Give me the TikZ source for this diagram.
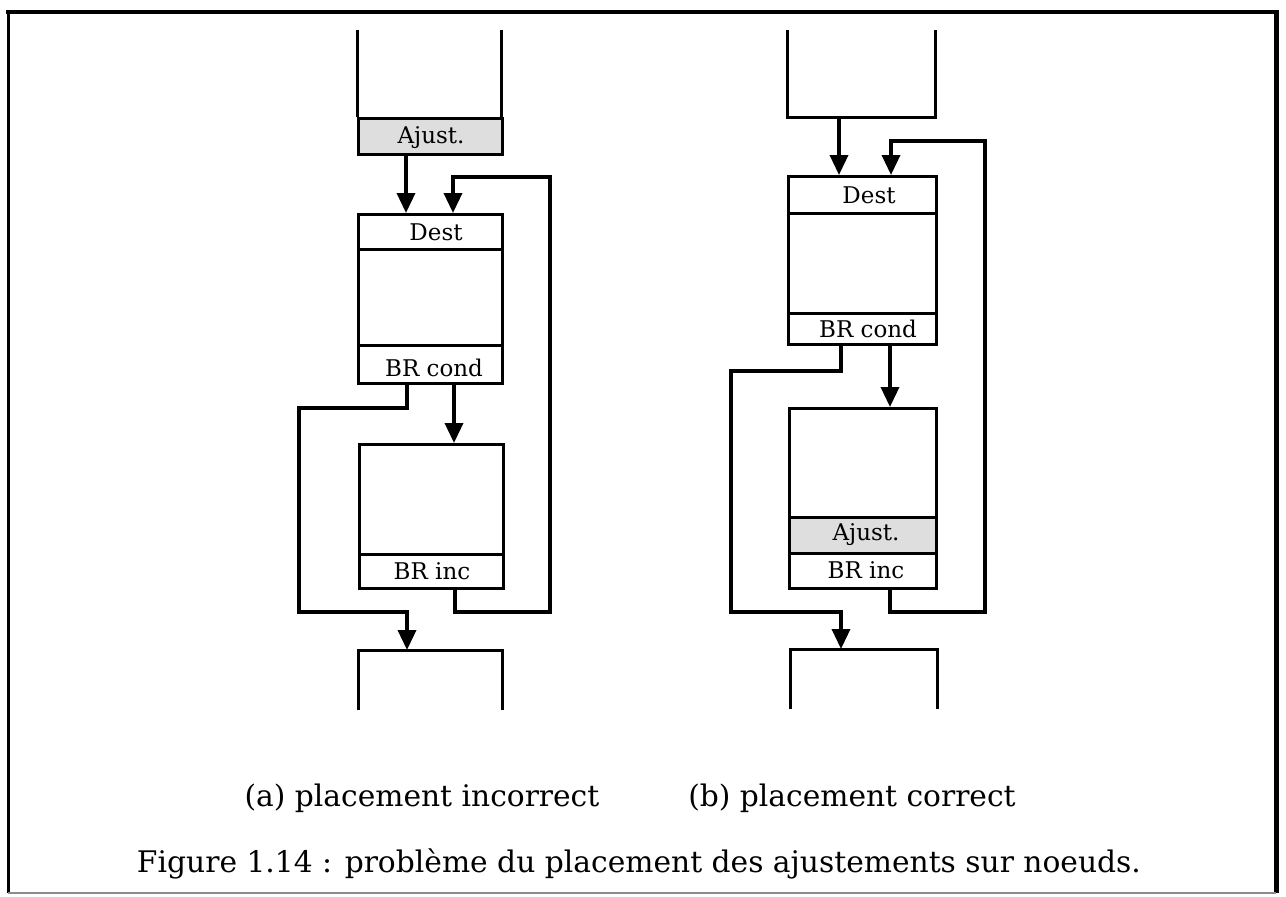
\documentclass[tikz,border=0pt]{standalone}
\usepackage{fontspec}
\setmainfont{DejaVu Serif}
\usetikzlibrary{arrows.meta}
\begin{document}
\begin{tikzpicture}[x=1pt,y=-1pt,
  ln/.style={line width=3pt, line join=miter},
  arr/.style={line width=3.5pt, line join=miter, -{Triangle[length=20pt,width=18pt]}},
  cell/.style={draw, line width=3pt, rectangle, inner sep=0pt, anchor=north west},
  ghost/.style={rectangle, inner sep=0pt, anchor=north west},
  shade/.style={fill=black!13},
  lbl/.style={inner sep=0pt, anchor=base, font=\fontsize{23}{27}\selectfont},
  captxt/.style={inner sep=0pt, anchor=base, font=\fontsize{29.7}{34}\selectfont}]
\useasboundingbox (0,0) rectangle (1286,897);
% frame
\draw[line width=4pt] (6,12) -- (1278,12);
\draw[line width=3pt] (8,10) -- (8,893);
\draw[line width=5pt] (1276,10) -- (1276,893);
\draw[line width=2pt, black!45] (8,893) -- (1276,893);

% ---------- (a) ----------
\node[ghost, minimum width=144pt, minimum height=87pt] (topA) at (357,30) {};
\draw[ln] (topA.north west) -- (topA.south west);
\draw[ln] (topA.north east) -- (topA.south east);
\node[cell, shade, minimum width=144pt, minimum height=36pt] (ajA) at (357,117) {};
\node[cell, minimum width=144pt, minimum height=35pt] (destA) at (357,213) {};
\node[cell, minimum width=144pt, minimum height=96pt] (bodyA) at (357,248) {};
\node[cell, minimum width=144pt, minimum height=38pt] (condA) at (357,344) {};
\node[cell, minimum width=144pt, minimum height=110pt] (blkA) at (358,443) {};
\node[cell, minimum width=144pt, minimum height=34pt] (incA) at (358,553) {};
\node[ghost, minimum width=144pt, minimum height=60pt] (botA) at (358,650) {};
\draw[ln] (botA.south west) -- (botA.north west) -- (botA.north east) -- (botA.south east);

\node[lbl] (tajA) at (431,143) {Ajust.};
\node[lbl] (tdestA) at (436,240) {Dest};
\node[lbl] (tcondA) at (434,376) {BR cond};
\node[lbl] (tincA) at (432,579) {BR inc};

\draw[arr] (406,0 |- ajA.south) -- (406,0 |- destA.north);
\draw[arr] (454,0 |- condA.south) -- (454,0 |- blkA.north);
\draw[arr] (407,0 |- condA.south) -- (407,408) -- (299,408) -- (299,612) -- (407,612) -- (407,0 |- botA.north);
\draw[arr] (455,0 |- incA.south) -- (455,612) -- (550,612) -- (550,177) -- (453,177) -- (453,0 |- destA.north);

% ---------- (b) ----------
\node[ghost, minimum width=148pt, minimum height=87pt] (topB) at (787,30) {};
\draw[ln] (topB.north west) -- (topB.south west) -- (topB.south east) -- (topB.north east);
\node[cell, minimum width=148pt, minimum height=37pt] (destB) at (787,175) {};
\node[cell, minimum width=148pt, minimum height=100pt] (bodyB) at (787,212) {};
\node[cell, minimum width=148pt, minimum height=31pt] (condB) at (787,312) {};
\node[cell, minimum width=147pt, minimum height=109pt] (blkB) at (788,407) {};
\node[cell, shade, minimum width=147pt, minimum height=36pt] (ajB) at (788,516) {};
\node[cell, minimum width=147pt, minimum height=35pt] (incB) at (788,552) {};
\node[ghost, minimum width=147pt, minimum height=60pt] (botB) at (790,649) {};
\draw[ln] (botB.south west) -- (botB.north west) -- (botB.north east) -- (botB.south east);

\node[lbl] (tdestB) at (869,203) {Dest};
\node[lbl] (tcondB) at (868,337) {BR cond};
\node[lbl] (tajB) at (866,540) {Ajust.};
\node[lbl] (tincB) at (866,578) {BR inc};

\draw[arr] (839,0 |- topB.south) -- (839,0 |- destB.north);
\draw[arr] (890,0 |- condB.south) -- (890,0 |- blkB.north);
\draw[arr] (841,0 |- condB.south) -- (841,371) -- (731,371) -- (731,612) -- (841,612) -- (841,0 |- botB.north);
\draw[arr] (890,0 |- incB.south) -- (890,612) -- (985,612) -- (985,141) -- (891,141) -- (891,0 |- destB.north);

% captions
\node[captxt] (capA) at (422,806) {(a) placement incorrect};
\node[captxt] (capB) at (852,806) {(b) placement correct};
\node[captxt] (fig) at (639,872) {\resizebox{1004pt}{!}{Figure 1.14 : problème du placement des ajustements sur noeuds.}};
\end{tikzpicture}
\end{document}
